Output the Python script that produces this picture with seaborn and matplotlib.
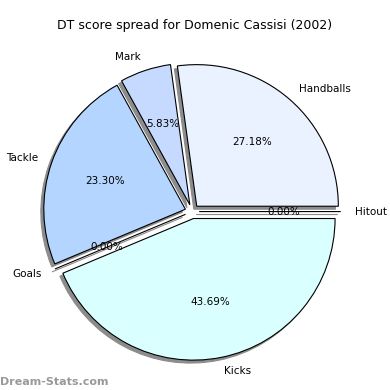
import matplotlib
matplotlib.use("Agg")
import matplotlib.pyplot as plt
import seaborn as sns

sns.set_theme(style="white")
plt.rcParams['font.family'] = ['DejaVu Sans']

categories = ["Hitout", "Handballs", "Mark", "Tackle", "Goals", "Kicks"]
values = [0, 28, 6, 24, 0, 45]
colors = ["#FFFFFF", "#EAF1FF", "#C6DAFF", "#B3D5FF", "#C0D0E8", "#D9FFFF"]
explode = [0.05, 0.05, 0.05, 0.05, 0.05, 0.05]

fig = plt.figure(figsize=(3.9, 3.9), dpi=100)
ax = fig.add_axes([0.035, 0.0, 0.915, 0.915])
wedges, texts, autotexts = ax.pie(
    values, labels=categories, colors=colors, explode=explode,
    autopct='%1.2f%%',
    shadow=dict(ox=-0.015, oy=-0.015, facecolor='#8c8c8c', edgecolor='#8c8c8c', alpha=1.0),
    startangle=0, counterclock=True,
    wedgeprops=dict(edgecolor='black', linewidth=0.8),
    textprops=dict(fontsize=7.5, color='black'), labeldistance=1.1, pctdistance=0.6)
ax.set_xlim(-1.26, 1.26)
ax.set_ylim(-1.26, 1.26)
ax.set_aspect('equal')
fig.text(0.5, 0.925, "DT score spread for Domenic Cassisi (2002)", ha='center', fontsize=9, color='black')
fig.text(0.0, 0.012, "Dream-Stats.com", ha='left', fontsize=8, color='#999999', fontweight='bold')
fig.savefig("out.png", dpi=100, facecolor='white')
